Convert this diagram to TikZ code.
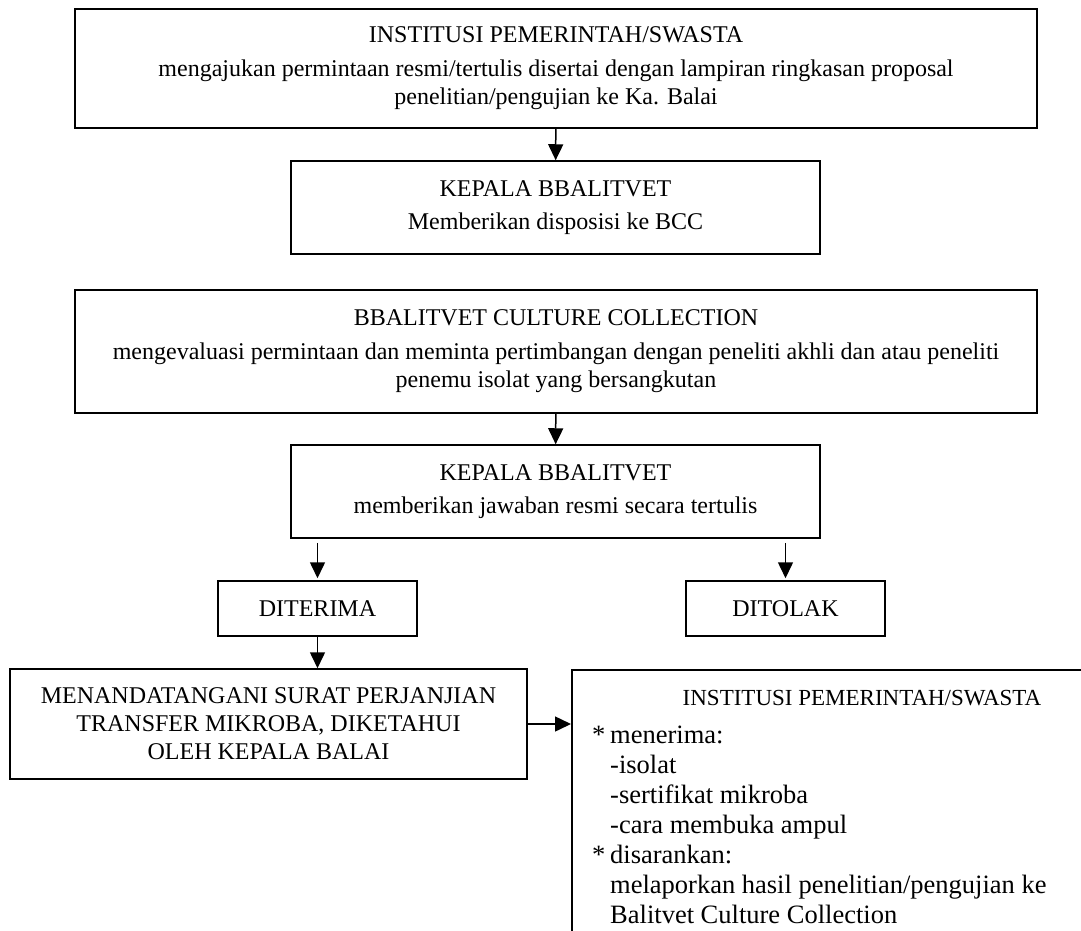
\documentclass[tikz,border=0pt]{standalone}
\usepackage{fontspec}
\setmainfont{Liberation Serif}
\usetikzlibrary{arrows.meta}

\begin{document}
\begin{tikzpicture}[x=1pt,y=-1pt,
        kotak/.style={draw,line width=1.5pt,align=center,inner sep=0pt,font=\fontsize{24}{28}\selectfont},
        teks/.style={inner sep=0pt,font=\fontsize{26.5}{30}\selectfont},
        panah/.style={line width=1.5pt,-{Triangle[width=15pt,length=16pt]}}]
        \useasboundingbox (0,0) rectangle (1081,931);
        \clip (0,0) rectangle (1081,931);
        %permintaan
        \node[kotak,minimum width=962pt,minimum height=119pt] (institusi) at (556,68.5)
            {INSTITUSI PEMERINTAH/SWASTA\\[6pt]
            mengajukan permintaan resmi/tertulis disertai dengan lampiran ringkasan proposal\\
            penelitian/pengujian ke Ka. Balai};
        \node[kotak,minimum width=529pt,minimum height=93pt] (kepala) at (555.5,207.5)
            {KEPALA BBALITVET\\[5pt] Memberikan disposisi ke BCC};
        \draw [panah] (institusi) -- (kepala);
        %evaluasi
        \node[kotak,minimum width=962pt,minimum height=123pt] (bcc) at (556,351.5)
            {BBALITVET CULTURE COLLECTION\\[6pt]
            mengevaluasi permintaan dan meminta pertimbangan dengan peneliti akhli dan atau peneliti\\
            penemu isolat yang bersangkutan};
        \node[kotak,minimum width=529pt,minimum height=93pt] (jawaban) at (555.5,491.5)
            {KEPALA BBALITVET\\[5pt] memberikan jawaban resmi secara tertulis};
        \draw [panah] (bcc) -- (jawaban);
        %keputusan
        \node[kotak,minimum width=199pt,minimum height=55pt] (diterima) at (317.5,608.5) {DITERIMA};
        \node[kotak,minimum width=199pt,minimum height=55pt] (ditolak) at (785.5,608.5) {DITOLAK};
        \draw [panah] ([yshift=-4pt]jawaban.south -| diterima.north) -- ([yshift=2pt]diterima.north);
        \draw [panah] ([yshift=-4pt]jawaban.south -| ditolak.north) -- ([yshift=2pt]ditolak.north);
        %perjanjian
        \node[kotak,minimum width=517pt,minimum height=110pt] (perjanjian) at (268.5,724)
            {MENANDATANGANI SURAT PERJANJIAN\\ TRANSFER MIKROBA, DIKETAHUI\\ OLEH KEPALA BALAI};
        \draw [panah] (diterima.south) -- (diterima.south |- perjanjian.north);
        %penerima
        \node[kotak,anchor=north west,minimum width=600pt,minimum height=400pt] (penerima) at (571,669) {};
        \node[teks,anchor=base,font=\fontsize{23}{28}\selectfont] (judul) at (862,705) {INSTITUSI PEMERINTAH/SWASTA};
        \node[teks,anchor=base west] (daftar) at (592,743)
            {\begin{tabular}[t]{@{}p{18pt}@{}l@{}}
            {*} & menerima:\\
                & -isolat\\
                & -sertifikat mikroba\\
                & -cara membuka ampul\\
            {*} & disarankan:\\
                & melaporkan hasil penelitian/pengujian ke\\
                & Balitvet Culture Collection
            \end{tabular}};
        \draw [panah] (perjanjian.east) -- (perjanjian.east -| penerima.west);
    \end{tikzpicture}
\end{document}
